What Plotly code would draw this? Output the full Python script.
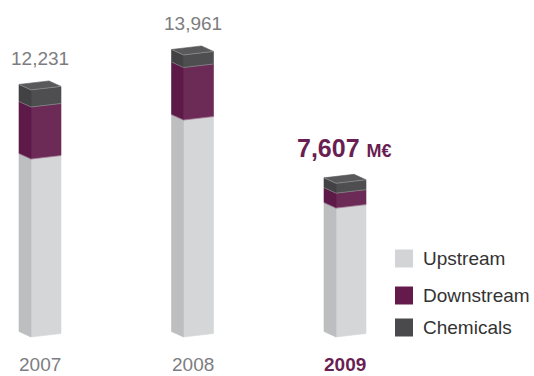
import plotly.graph_objects as go

# Adjusted net income by segment, M€
years = ["2007", "2008", "2009"]
upstream = [8810, 10740, 6380]
downstream = [2575, 2600, 740]
chemicals = [846, 621, 487]
totals = [12231, 13961, 7607]
total_labels = ["12,231", "13,961", "7,607"]
segments = ["Upstream", "Downstream", "Chemicals"]

# Face colours per segment: (front, side, top)
colors = {
    "Upstream": ("#d5d6d8", "#bdbec0", "#e2e3e5"),
    "Downstream": ("#6b2b56", "#5d1947", "#7a3a64"),
    "Chemicals": ("#4e4e50", "#424244", "#59595b"),
}
legend_colors = {"Upstream": "#d3d4d6", "Downstream": "#641a4b", "Chemicals": "#4a4a4c"}

W, H = 534, 376
BASE_PX = 337          # pixel row of the zero line
S = 49.5               # M€ per pixel
X0, STEP = 31, 152.5   # near vertical edge of the first bar, spacing
LW, RW = 12, 30        # widths of side and front faces (px)
LR, RR = 5.5, 3.5      # rise of side and front faces (px)
YEAR_ROW = 364         # pixel row of the year labels

GREY = "#7d7d7f"
PURPLE = "#6a1f52"
FONT = "Liberation Sans, Arial, Helvetica, sans-serif"

fig = go.Figure()


def poly(xs, ys, color):
    fig.add_trace(go.Scatter(
        x=xs + [xs[0]], y=ys + [ys[0]], mode="lines", fill="toself",
        fillcolor=color, line=dict(width=0.6, color=color),
        hoverinfo="skip", showlegend=False))


def edge(xs, ys):
    fig.add_trace(go.Scatter(
        x=xs, y=ys, mode="lines", line=dict(width=0.7, color="rgba(255,255,255,0.35)"),
        hoverinfo="skip", showlegend=False))


series = {"Upstream": upstream, "Downstream": downstream, "Chemicals": chemicals}
for i, yr in enumerate(years):
    xn = X0 + i * STEP
    y0 = 0.0
    for seg in segments:
        y1 = y0 + series[seg][i]
        front, side, top = colors[seg]
        # front face
        poly([xn, xn + RW, xn + RW, xn],
             [y0, y0 + RR * S, y1 + RR * S, y1], front)
        # side face
        poly([xn - LW, xn, xn, xn - LW],
             [y0 + LR * S, y0, y1, y1 + LR * S], side)
        if y0 > 0:
            edge([xn - LW, xn, xn + RW], [y0 + LR * S, y0, y0 + RR * S])
        y0 = y1
    # top cap
    T = y0
    top = colors["Chemicals"][2]
    poly([xn, xn + RW, xn + RW - LW, xn - LW],
         [T, T + RR * S, T + (RR + LR) * S, T + LR * S], top)
    edge([xn - LW, xn, xn + RW], [T + LR * S, T, T + RR * S])

    cx = xn + (RW - LW) / 2
    last = i == len(years) - 1
    year_y = -(YEAR_ROW - BASE_PX) * S
    if last:
        txt = f"<b>{total_labels[i]} <span style='font-size:18px'>M€</span></b>"
        fig.add_annotation(x=cx - 1, y=T, yshift=19, text=txt, showarrow=False,
                           xanchor="center", yanchor="bottom",
                           font=dict(family=FONT, size=25, color=PURPLE))
        fig.add_annotation(x=cx, y=year_y, text=f"<b>{yr}</b>", borderpad=0,
                           showarrow=False, xanchor="center", yanchor="middle",
                           font=dict(family=FONT, size=19, color=PURPLE))
    else:
        fig.add_annotation(x=cx, y=T, yshift=19, text=total_labels[i], showarrow=False,
                           xanchor="center", yanchor="bottom",
                           font=dict(family=FONT, size=19, color=GREY))
        fig.add_annotation(x=cx, y=year_y, text=yr, borderpad=0,
                           showarrow=False, xanchor="center", yanchor="middle",
                           font=dict(family=FONT, size=19, color=GREY))

# Legend: swatches and labels
legend_rows = [258.5, 295.5, 327.5]
for seg, py in zip(segments, legend_rows):
    fig.add_shape(type="rect", xref="x", yref="y",
                  x0=395, x1=413, y0=(BASE_PX - py - 9) * S, y1=(BASE_PX - py + 9) * S,
                  fillcolor=legend_colors[seg], line=dict(width=0))
    fig.add_annotation(x=421, y=(BASE_PX - py) * S, text=seg, showarrow=False,
                       xanchor="left", yanchor="middle",
                       font=dict(family=FONT, size=19, color="#333333"))

fig.update_layout(
    width=W, height=H, margin=dict(l=0, r=0, t=0, b=0),
    paper_bgcolor="white", plot_bgcolor="white", showlegend=False,
    xaxis=dict(range=[0, W], visible=False, fixedrange=True),
    yaxis=dict(range=[-(H - BASE_PX) * S, BASE_PX * S], visible=False, fixedrange=True),
    hovermode=False,
)

fig.write_html("out.html", config={"displayModeBar": False})
